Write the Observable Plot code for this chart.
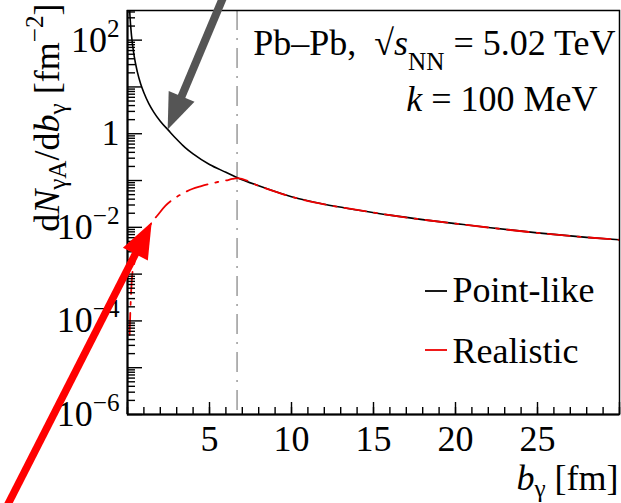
<!DOCTYPE html>
<html><head><meta charset="utf-8">
<script src="https://cdn.jsdelivr.net/npm/d3@7"></script>
<script src="https://cdn.jsdelivr.net/npm/@observablehq/plot@0.6"></script>
<style>html,body{margin:0;padding:0;background:#fff} svg{display:block}</style>
</head><body><div id="chart"></div>
<script>
// ---- data ----
const pointB = [0.1, 0.15, 0.25, 0.4, 0.6, 0.8, 1.0, 1.3, 1.6, 2.0, 2.5, 3.0, 3.5, 4.0, 5.0, 6.0, 6.7, 8, 10, 12, 14, 16, 18, 20, 22, 25, 28, 30];
const pointY = [750, 330, 120, 47, 21, 11.7, 7.5, 4.4, 2.9, 1.85, 1.18, 0.76, 0.51, 0.37, 0.22, 0.15, 0.115, 0.077, 0.045, 0.031, 0.0235, 0.0182, 0.0146, 0.012, 0.0099, 0.0076, 0.0061, 0.0054];
const realB = [0.13, 0.17, 0.22, 0.28, 0.4, 0.6, 0.8, 1.0, 1.3, 1.6, 1.81, 2.32, 2.93, 3.5, 3.94, 4.5, 4.96, 5.5, 5.98, 6.4, 6.7, 8, 10, 12, 14, 16, 18, 20, 22, 25, 28, 30];
const realY = [5e-5, 1.5e-4, 4e-4, 9e-4, 1.6e-3, 3e-3, 4.6e-3, 6.5e-3, 1.0e-2, 1.45e-2, 0.0177, 0.029, 0.043, 0.056, 0.066, 0.076, 0.084, 0.093, 0.10, 0.108, 0.113, 0.077, 0.045, 0.031, 0.0235, 0.0182, 0.0146, 0.012, 0.0099, 0.0076, 0.0061, 0.0054];
const nuclearRadius = [6.68];
const xTickLabels = [5, 10, 15, 20, 25];
const yTickLabelValues = [1e2, 1, 1e-2, 1e-4, 1e-6];
const yTickLabels = ["10^{2}", "1", "10^{−2}", "10^{−4}", "10^{−6}"];
const legendLabels = ["Point-like", "Realistic"];
const infoLines = ["Pb–Pb,  √#it{s}__{NN} = 5.02 TeV", "#it{k} = 100 MeV"];
const xTitle = "#it{b}_{γ} [fm]";
const yTitle = "d#it{N}_{γA}/d#it{b}_{γ} [fm^{-2}]";
// annotation arrows (tail -> tip), in data units
const arrowTailX = [6.3, -7.45];
const arrowTailY = [1860, 8.7e-9];
const arrowTipX = [2.48, 1.506];
const arrowTipY = [1.2, 0.0127];

// ---- layout ----
const W = 621, H = 503, mL = 127, mR = 2, mT = 10, mB = 89;
const fw = W - mL - mR, fh = H - mT - mB;
const FONT = "'Liberation Serif', 'Times New Roman', serif";

const pointData = pointB.map((b, i) => ({b, v: pointY[i]}));
const realData = realB.map((b, i) => ({b, v: realY[i]}));

const xMinor = d3.range(0, 31, 1);
const xMajor = d3.range(0, 31, 5);
const yMajor = d3.range(-6, 3).map(k => Math.pow(10, k));
const yMinor = [];
for (let k = -6; k <= 2; k++) for (let m = 2; m <= 9; m++) { const v = m * Math.pow(10, k); if (v <= 430) yMinor.push(v); }

function arrowMark(i, color, shaftW, headLen, headHalf) {
  return (index, scales) => {
    const x0 = scales.x(arrowTailX[i]), y0 = scales.y(arrowTailY[i]);
    const x1 = scales.x(arrowTipX[i]), y1 = scales.y(arrowTipY[i]);
    const dx = x1 - x0, dy = y1 - y0, L = Math.hypot(dx, dy);
    const ux = dx / L, uy = dy / L, px = -uy, py = ux;
    const bx = x1 - ux * headLen, by = y1 - uy * headLen;
    const g = d3.create("svg:g");
    g.append("line").attr("x1", x0).attr("y1", y0).attr("x2", bx + ux * 2).attr("y2", by + uy * 2)
      .attr("stroke", color).attr("stroke-width", shaftW);
    g.append("path").attr("d", `M${x1},${y1}L${bx + px * headHalf},${by + py * headHalf}L${bx - px * headHalf},${by - py * headHalf}Z`)
      .attr("fill", color);
    return g.node();
  };
}

function legendSwatches(index, scales, values, dims) {
  const g = d3.create("svg:g");
  const right = dims.width - dims.marginRight;
  const cols = ["#000000", "#ee0000"];
  const ys = [dims.marginTop + 281, dims.marginTop + 340];
  cols.forEach((c, i) => {
    g.append("line").attr("x1", right - 194).attr("x2", right - 172).attr("y1", ys[i]).attr("y2", ys[i])
      .attr("stroke", c).attr("stroke-width", 1.8);
  });
  return g.node();
}

const plot = Plot.plot({
  width: W, height: H,
  marginLeft: mL, marginRight: mR, marginTop: mT, marginBottom: mB,
  x: {domain: [0, 30], axis: null},
  y: {type: "log", domain: [1e-6, 430], axis: null},
  style: {fontFamily: FONT, background: "white", color: "black", overflow: "visible"},
  marks: [
    Plot.ruleX(nuclearRadius, {stroke: "#808080", strokeWidth: 1.2, strokeDasharray: "20,8,2,8"}),
    Plot.line(pointData, {x: "b", y: "v", stroke: "#000", strokeWidth: 1.6, curve: "monotone-x", clip: true}),
    Plot.line(realData, {x: "b", y: "v", stroke: "#ee0000", strokeWidth: 1.8, strokeDasharray: "22,8,3,8", curve: "monotone-x", clip: true}),
    // ticks (inward)
    Plot.tickX(xMinor, {x: d => d, insetTop: fh - 7, stroke: "#000", strokeWidth: 1.4}),
    Plot.tickX(xMajor, {x: d => d, insetTop: fh - 12, stroke: "#000", strokeWidth: 1.4}),
    Plot.tickY(yMinor, {y: d => d, insetRight: fw - 8, stroke: "#000", strokeWidth: 1.4}),
    Plot.tickY(yMajor, {y: d => d, insetRight: fw - 15, stroke: "#000", strokeWidth: 1.4}),
    Plot.frame({stroke: "#000", strokeWidth: 1.5}),
    Plot.ruleX([0], {stroke: "#000", strokeWidth: 2}),
    Plot.ruleY([1e-6], {stroke: "#000", strokeWidth: 2}),
    // tick labels
    Plot.text(xTickLabels, {x: d => d, y: 1e-6, text: d => String(d), dy: 36, lineAnchor: "bottom", fontSize: 36}),
    Plot.text(yTickLabelValues, {x: 0, y: d => d, text: (d, i) => yTickLabels[i], dx: -8, textAnchor: "end", lineAnchor: "middle", fontSize: 36}),
    // titles
    Plot.text([xTitle], {frameAnchor: "bottom-right", text: d => d, textAnchor: "end", lineAnchor: "bottom", dx: -1, dy: 75, fontSize: 36}),
    Plot.text([yTitle], {frameAnchor: "top-left", text: d => d, rotate: -90, textAnchor: "end", lineAnchor: "bottom", dx: -69, dy: -7, fontSize: 36}),
    // info
    Plot.text([infoLines[0]], {frameAnchor: "top-right", text: d => d, textAnchor: "end", lineAnchor: "bottom", dx: -4, dy: 44, fontSize: 36}),
    Plot.text([infoLines[1]], {frameAnchor: "top-right", text: d => d, textAnchor: "end", lineAnchor: "bottom", dx: -22, dy: 100, fontSize: 36}),
    // legend
    legendSwatches,
    Plot.text([legendLabels[0]], {frameAnchor: "top-right", text: d => d, textAnchor: "start", lineAnchor: "bottom", dx: 452 - (W - mR), dy: 301 - mT, fontSize: 36}),
    Plot.text([legendLabels[1]], {frameAnchor: "top-right", text: d => d, textAnchor: "start", lineAnchor: "bottom", dx: 452 - (W - mR), dy: 362 - mT, fontSize: 36}),
    // arrows
    arrowMark(0, "#555555", 8, 36, 14),
    arrowMark(1, "#ff0000", 7.5, 36, 14)
  ]
});
document.getElementById("chart").appendChild(plot);

// mini-TeX: _{sub}, __{low sub}, ^{sup}, #it{italic}
const NS = "http://www.w3.org/2000/svg";
plot.querySelectorAll("text").forEach(t => {
  const s = t.textContent;
  if (!/[_^]\{|#it\{/.test(s)) return;
  const fs = parseFloat(getComputedStyle(t).fontSize) || 36;
  t.textContent = "";
  const parts = s.split(/(__\{[^}]*\}|_\{[^}]*\}|\^\{[^}]*\}|#it\{[^}]*\})/).filter(p => p);
  let cur = 0;
  for (const p of parts) {
    let kind = "n", content = p;
    if (p.startsWith("__{")) { kind = "lsub"; content = p.slice(3, -1); }
    else if (p.startsWith("_{")) { kind = "sub"; content = p.slice(2, -1); }
    else if (p.startsWith("^{")) { kind = "sup"; content = p.slice(2, -1); }
    else if (p.startsWith("#it{")) { kind = "it"; content = p.slice(4, -1); }
    const shift = kind === "lsub" ? 0.42 * fs : kind === "sub" ? 0.22 * fs : kind === "sup" ? -0.42 * fs : 0;
    const ts = document.createElementNS(NS, "tspan");
    if (shift !== cur) ts.setAttribute("dy", shift - cur);
    cur = shift;
    if (kind === "sub" || kind === "sup" || kind === "lsub") ts.setAttribute("font-size", 0.7 * fs);
    if (kind === "it") ts.setAttribute("font-style", "italic");
    ts.textContent = content.replace(/-/g, "−");
    t.appendChild(ts);
  }
});
</script>
</body></html>
